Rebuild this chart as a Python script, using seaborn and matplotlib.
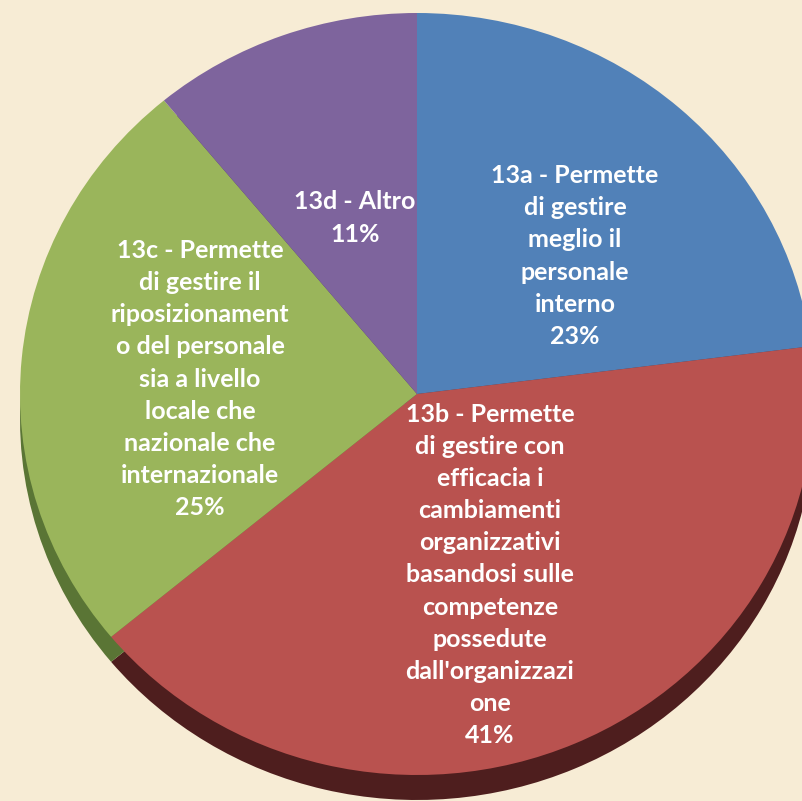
import matplotlib.pyplot as plt
import seaborn as sns

# dati del grafico (domanda 13)
etichette = [
    "13a - Permette\ndi gestire\nmeglio il\npersonale\ninterno",
    "13b - Permette\ndi gestire con\nefficacia i\ncambiamenti\norganizzativi\nbasandosi sulle\ncompetenze\npossedute\ndall'organizzazi\none",
    "13c - Permette\ndi gestire il\nriposizionament\no del personale\nsia a livello\nlocale che\nnazionale che\ninternazionale",
    "13d - Altro",
]
percentuali = [23, 41, 25, 11]

colori = ["#5181B8", "#B9524F", "#9AB55B", "#7E649D"]
colori_bordo = ["#2E4A6E", "#4E1E1E", "#5A7535", "#4A3A5E"]

sns.set_theme(style="white")
plt.rcParams["font.family"] = ["Lato", "DejaVu Sans"]

fig = plt.figure(figsize=(8.02, 8.01), dpi=100, facecolor="#F7ECD5")
ax = fig.add_axes([0, 0, 1, 1])
ax.set_facecolor("#F7ECD5")

# geometria in pixel del riferimento (ellisse leggermente inclinata)
W, H = 802, 801
cx, cy, rx, ry = 417, 394, 397, 381
spessore = 25 / ry

# lato della torta (pie scuro spostato in basso)
ax.pie(percentuali, colors=sns.color_palette(colori_bordo), startangle=90,
       counterclock=False, center=(0, -spessore), radius=1,
       wedgeprops=dict(linewidth=0))
# faccia superiore
ax.pie(percentuali, colors=sns.color_palette(colori), startangle=90,
       counterclock=False, center=(0, 0), radius=1,
       wedgeprops=dict(linewidth=0))

ax.set_aspect("auto")
ax.set_xlim(-cx / rx, (W - cx) / rx)
ax.set_ylim(-(H - cy) / ry, cy / ry)
ax.axis("off")

# posizioni delle etichette (centro del blocco di testo, in pixel)
pos_testo = [(575, 256), (490, 575), (200, 379), (355, 218)]
for testo, p, (px, py) in zip(etichette, percentuali, pos_testo):
    fig.text(px / W, 1 - py / H, f"{testo}\n{p}%", ha="center", va="center",
             color="white", fontsize=18, fontweight="bold", linespacing=1.48)

plt.savefig("out.png", dpi=100, facecolor=fig.get_facecolor())
